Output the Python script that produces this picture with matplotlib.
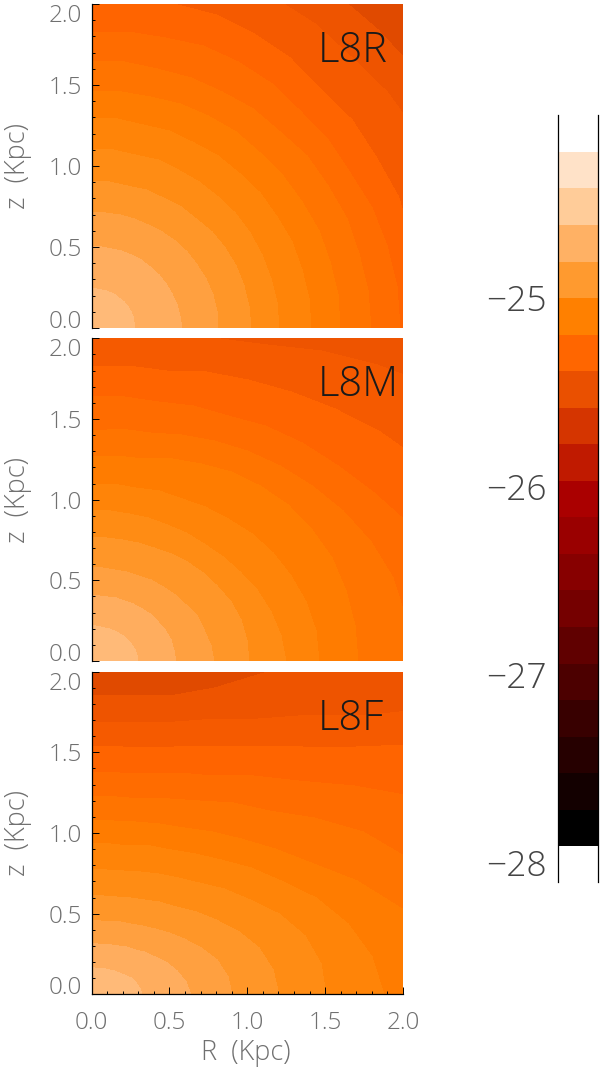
import numpy as np
import matplotlib
matplotlib.use('Agg')
import matplotlib.pyplot as plt
from matplotlib.colors import ListedColormap

plt.rcParams['font.family'] = ['Open Sans', 'DejaVu Sans']
plt.rcParams['font.weight'] = 'light'

# angle of the rays along which the band edges were read (deg from the R axis)
ray_deg = [0, 7.5, 15, 22.5, 30, 37.5, 45, 52.5, 60, 67.5, 75, 82.5, 90]

# radius (Kpc) of each band edge on each ray
radii_l8r = [
    [0.285, 0.284, 0.282, 0.279, 0.275, 0.271, 0.266, 0.262, 0.258, 0.255, 0.252, 0.251, 0.25],
    [0.585, 0.581, 0.576, 0.569, 0.561, 0.552, 0.542, 0.534, 0.525, 0.52, 0.514, 0.512, 0.51],
    [0.82, 0.818, 0.813, 0.804, 0.792, 0.78, 0.765, 0.755, 0.742, 0.735, 0.726, 0.724, 0.72],
    [1.03, 1.027, 1.02, 1.01, 0.995, 0.98, 0.96, 0.95, 0.935, 0.927, 0.915, 0.914, 0.91],
    [1.21, 1.21, 1.2, 1.195, 1.18, 1.172, 1.155, 1.147, 1.13, 1.128, 1.115, 1.115, 1.11],
    [1.415, 1.415, 1.405, 1.40, 1.385, 1.375, 1.355, 1.345, 1.325, 1.32, 1.305, 1.305, 1.30],
    [1.60, 1.60, 1.59, 1.585, 1.565, 1.555, 1.535, 1.53, 1.515, 1.50, 1.48, 1.478, 1.47],
    [1.80, 1.80, 1.785, 1.78, 1.76, 1.75, 1.72, 1.715, 1.69, 1.68, 1.66, 1.66, 1.65],
    [1.99, 1.985, 1.97, 1.955, 1.925, 1.92, 1.90, 1.91, 1.90, 1.89, 1.86, 1.85, 1.83],
    [2.16, 2.16, 2.14, 2.14, 2.12, 2.115, 2.09, 2.105, 2.10, 2.10, 2.08, 2.07, 2.05],
    [2.50, 2.50, 2.48, 2.46, 2.42, 2.40, 2.37, 2.37, 2.36, 2.34, 2.30, 2.28, 2.25],
    [2.80, 2.78, 2.75, 2.70, 2.65, 2.63, 2.61, 2.60, 2.60, 2.60, 2.60, 2.60, 2.60],
]
radii_l8m = [
    [0.307, 0.301, 0.294, 0.284, 0.273, 0.263, 0.253, 0.244, 0.236, 0.231, 0.226, 0.224, 0.223],
    [0.547, 0.543, 0.535, 0.52, 0.50, 0.485, 0.465, 0.45, 0.435, 0.427, 0.416, 0.414, 0.41],
    [0.793, 0.78, 0.757, 0.737, 0.71, 0.687, 0.658, 0.638, 0.615, 0.603, 0.589, 0.586, 0.58],
    [1.02, 1.015, 1.0, 0.975, 0.94, 0.91, 0.873, 0.847, 0.816, 0.80, 0.78, 0.776, 0.77],
    [1.254, 1.235, 1.2, 1.16, 1.11, 1.07, 1.03, 1.005, 0.98, 0.965, 0.95, 0.945, 0.935],
    [1.468, 1.46, 1.43, 1.395, 1.35, 1.305, 1.25, 1.21, 1.17, 1.145, 1.115, 1.11, 1.10],
    [1.715, 1.715, 1.70, 1.68, 1.64, 1.595, 1.54, 1.485, 1.42, 1.36, 1.30, 1.285, 1.27],
    [2.05, 2.04, 2.01, 1.95, 1.87, 1.795, 1.72, 1.65, 1.58, 1.525, 1.47, 1.455, 1.43],
    [2.5, 2.44, 2.35, 2.22, 2.1, 2.0, 1.92, 1.84, 1.76, 1.715, 1.67, 1.655, 1.64],
    [3.0, 2.9, 2.8, 2.63, 2.47, 2.34, 2.22, 2.11, 2.02, 1.945, 1.87, 1.85, 1.83],
    [3.6, 3.45, 3.3, 3.15, 3.0, 2.8, 2.6, 2.43, 2.27, 2.17, 2.08, 2.05, 2.02],
]
radii_l8f = [
    [0.332, 0.322, 0.305, 0.278, 0.252, 0.23, 0.211, 0.197, 0.185, 0.177, 0.171, 0.168, 0.167],
    [0.643, 0.62, 0.577, 0.53, 0.478, 0.436, 0.40, 0.374, 0.351, 0.337, 0.324, 0.319, 0.316],
    [0.911, 0.89, 0.84, 0.77, 0.695, 0.635, 0.582, 0.544, 0.511, 0.49, 0.472, 0.464, 0.46],
    [1.21, 1.18, 1.123, 1.03, 0.93, 0.85, 0.778, 0.727, 0.683, 0.655, 0.631, 0.62, 0.615],
    [1.51, 1.49, 1.424, 1.31, 1.18, 1.08, 0.987, 0.92, 0.866, 0.83, 0.80, 0.786, 0.78],
    [1.886, 1.82, 1.71, 1.57, 1.415, 1.295, 1.184, 1.105, 1.04, 1.0, 0.96, 0.945, 0.936],
    [2.2, 2.16, 2.07, 1.85, 1.636, 1.495, 1.37, 1.28, 1.20, 1.15, 1.11, 1.09, 1.082],
    [2.6, 2.52, 2.4, 2.21, 2.02, 1.81, 1.62, 1.50, 1.39, 1.32, 1.26, 1.24, 1.228],
    [3.6, 3.4, 3.2, 2.8, 2.45, 2.13, 1.88, 1.71, 1.57, 1.49, 1.418, 1.39, 1.376],
    [4.0, 3.85, 3.7, 3.4, 3.05, 2.55, 2.17, 1.95, 1.775, 1.67, 1.59, 1.55, 1.537],
    [4.5, 4.35, 4.2, 3.85, 3.5, 2.95, 2.45, 2.18, 1.97, 1.85, 1.75, 1.705, 1.69],
    [5.0, 4.8, 4.6, 4.25, 3.9, 3.4, 2.95, 2.6, 2.33, 2.06, 1.92, 1.87, 1.853],
]
panel_names = ['L8R', 'L8M', 'L8F']
panel_radii = [radii_l8r, radii_l8m, radii_l8f]

# colours of the bands, from the centre outwards
band_colors = ['#FFBA78', '#FFAD5E', '#FFA040', '#FF9628', '#FF8C14', '#FF8408', '#FF7C00',
               '#FF7400', '#FF6C00', '#FF6400', '#F55A00', '#EE5400', '#E04A00']

# colour bar
bar_edges = [-27.91, -27.716, -27.522, -27.328, -27.134, -26.94, -26.746, -26.552, -26.358, -26.164,
             -25.97, -25.776, -25.582, -25.388, -25.194, -25.0, -24.806, -24.612, -24.418, -24.224]
bar_colors = ['#000000', '#130000', '#260000', '#380000', '#4C0000', '#600000', '#750000', '#870000',
              '#9A0000', '#AA0000', '#C01A00', '#D53500', '#EA5000', '#FF6600', '#FF8000', '#FF9A2F',
              '#FFB164', '#FFCC99', '#FFE2C8']
bar_ticks = [-25, -26, -27, -28]

W, H = 600, 1067
tick_grey = '#707070'
boxes = [(4, 328), (338.3, 661), (671.7, 994.3)]

fig = plt.figure(figsize=(W/100, H/100), dpi=100)
theta = np.radians(ray_deg)

for i in range(3):
    top, bottom = boxes[i]
    ax = fig.add_axes([91.5/W, 1 - bottom/H, 311.5/W, (bottom - top)/H])

    # quad mesh between the read edges, closed at the centre and far outside the frame
    rows = np.array(panel_radii[i])
    r = np.vstack([np.zeros(len(ray_deg)), rows, np.full(len(ray_deg), 6.0)])
    X = r*np.cos(theta)
    Y = r*np.sin(theta)
    C = np.repeat(np.arange(r.shape[0] - 1)[:, None], len(ray_deg) - 1, axis=1)
    ax.pcolormesh(X, Y, C, cmap=ListedColormap(band_colors), vmin=-0.5, vmax=12.5, shading='flat')
    ax.set_xlim(0, 2)
    ax.set_ylim(0, 2)

    for s in ['top', 'right']:
        ax.spines[s].set_visible(False)
    ax.spines['left'].set_linewidth(0.9)
    ax.spines['bottom'].set_linewidth(0.9)
    ax.spines['bottom'].set_visible(i == 2)

    ax.set_yticks([0, 0.5, 1.0, 1.5, 2.0])
    ax.set_yticklabels(['0.0', '0.5', '1.0', '1.5', '2.0'])
    ax.set_yticks(np.arange(0, 2.05, 0.1), minor=True)
    ax.tick_params(axis='y', which='major', direction='in', length=5, width=0.7, pad=7,
                   labelsize=17.5, labelcolor=tick_grey)
    ax.tick_params(axis='y', which='minor', direction='in', length=2.5, width=0.7)
    labels = ax.get_yticklabels()
    labels[0].set_verticalalignment('baseline')
    labels[-1].set_verticalalignment('top')

    if i == 2:
        ax.set_xticks([0, 0.5, 1.0, 1.5, 2.0])
        ax.set_xticklabels(['0.0', '0.5', '1.0', '1.5', '2.0'])
        ax.set_xticks(np.arange(0, 2.05, 0.1), minor=True)
        ax.tick_params(axis='x', which='major', direction='in', length=5, width=0.7, pad=12,
                       labelsize=17.5, labelcolor=tick_grey)
        ax.tick_params(axis='x', which='minor', direction='in', length=2.5, width=0.7)
    else:
        ax.set_xticks([])

    ax.text(0.725, 0.82, panel_names[i], transform=ax.transAxes, fontsize=30, color='#1a1a1a', va='baseline')
    fig.text(18/W, 1 - (top + bottom)/2/H, 'z  (Kpc)', rotation=90, fontsize=19.5, color=tick_grey,
             ha='center', va='center')

fig.text(246/W, 1 - 1053/H, 'R  (Kpc)', fontsize=19.5, color=tick_grey, ha='center', va='center')

# colour bar on the right
cax = fig.add_axes([558/W, 1 - 882/H, 39.5/W, 767/H])
cax.pcolormesh([0, 1], bar_edges, np.arange(19)[:, None], cmap=ListedColormap(bar_colors), shading='flat')
cax.set_xlim(0, 1)
cax.set_ylim(-28.10, -24.028)
cax.set_xticks([])
cax.spines['top'].set_visible(False)
cax.spines['bottom'].set_visible(False)
cax.spines['left'].set_linewidth(0.9)
cax.spines['right'].set_linewidth(0.9)
cax.set_yticks(bar_ticks)
cax.set_yticklabels(['\u2212' + str(abs(t)) for t in bar_ticks])
cax.tick_params(axis='y', length=0, pad=8, labelsize=25.5, labelcolor='#444444')

fig.savefig('out.png', dpi=100)
